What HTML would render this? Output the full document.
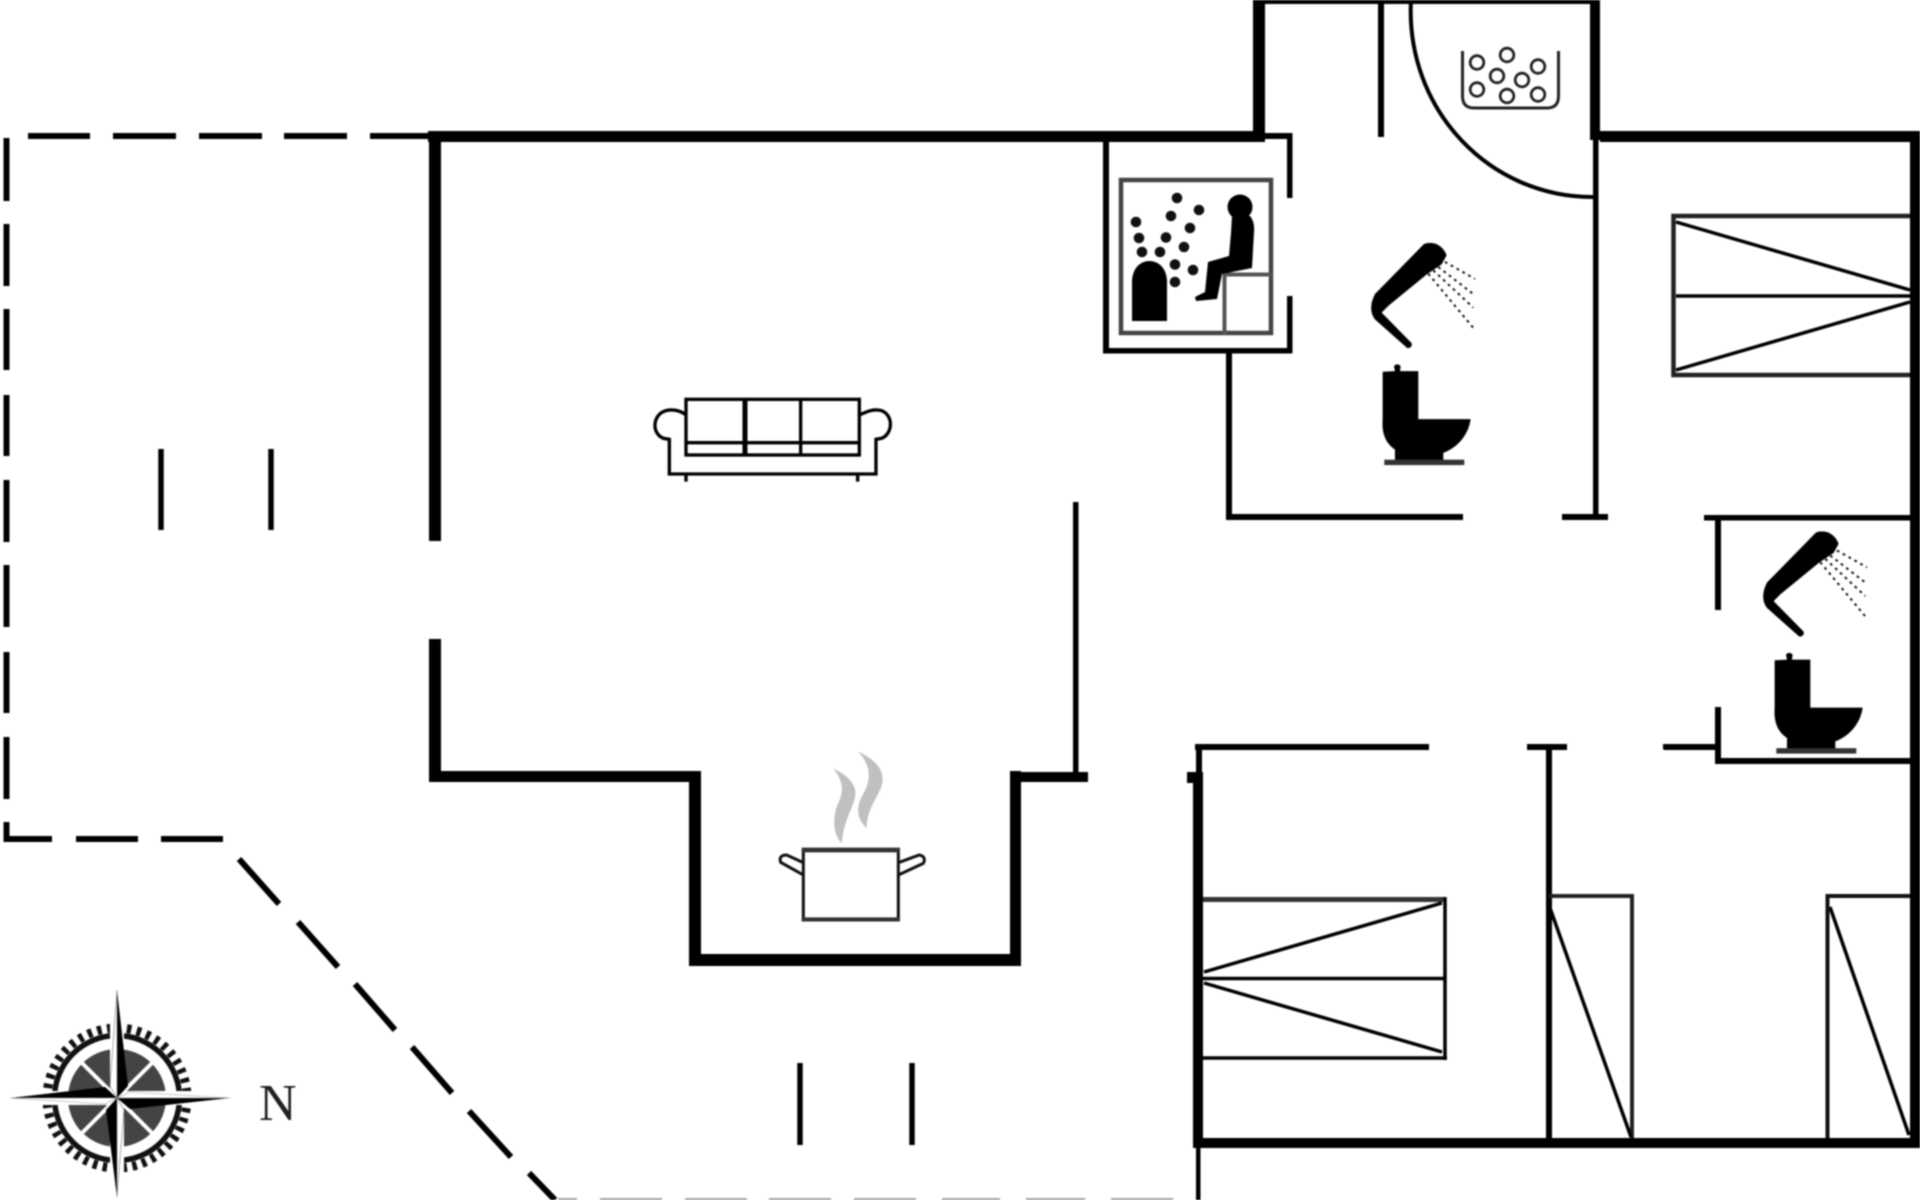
<!DOCTYPE html>
<html>
<head>
<meta charset="utf-8">
<style>
html,body{margin:0;padding:0;background:#fff}
svg{display:block;filter:blur(.7px)}
</style>
</head>
<body>
<svg xmlns="http://www.w3.org/2000/svg" width="1920" height="1200" viewBox="0 0 1920 1200">
<rect width="1920" height="1200" fill="#fff"/>

<!-- dashed outline -->
<g stroke="#000" stroke-width="6" fill="none">
<path d="M28 136H90M113 136H176M199 136H262M284 136H347M370 136H432"/>
<path d="M6.5 138V201M6.5 224V286M6.5 309V370M6.5 395V456M6.5 480V542M6.5 565V627M6.5 652V713M6.5 737V799M6.5 822V842"/>
<path d="M4 839H52M76 839H138M161 839H223"/>
<path d="M239 859L279 904M298 922L338 967M355 984L395 1030M412 1047L452 1093M469 1111L511 1157M529 1173L555 1200"/>
<path d="M161 449V530M271 449V530M800 1063V1145M912 1063V1145" stroke-width="5.5"/>
</g>
<path d="M558 1199H577M600 1199H662M685 1199H747M769 1199H831M854 1199H916M942 1199H1000M1026 1199H1085M1111 1199H1173" stroke="#888" stroke-width="1.5"/>

<!-- walls -->
<g fill="#000">
<rect x="428" y="131" width="837" height="11"/>
<rect x="429" y="131" width="12" height="410"/>
<rect x="429" y="639" width="12" height="143"/>
<rect x="429" y="771" width="272" height="11"/>
<rect x="689" y="771" width="12" height="195"/>
<rect x="689" y="954" width="332" height="12"/>
<rect x="1010" y="771" width="11" height="195"/>
<rect x="1010" y="772" width="78" height="10"/>
<rect x="1073" y="502" width="5.5" height="274"/>

<rect x="1253" y="0" width="12" height="140"/>
<rect x="1253" y="0" width="347" height="4"/>
<rect x="1590" y="0" width="10" height="140"/>
<rect x="1593" y="140" width="5.5" height="378"/>
<rect x="1378" y="0" width="6" height="137"/>

<rect x="1103" y="140" width="6" height="213"/>
<rect x="1103" y="348" width="189" height="5.5"/>
<rect x="1265" y="133" width="27" height="6"/>
<rect x="1287" y="133" width="5.5" height="65"/>
<rect x="1287" y="296" width="5.5" height="57"/>
<rect x="1226" y="351" width="6" height="169"/>
<rect x="1226" y="514" width="237" height="6"/>
<rect x="1562" y="514" width="46" height="6"/>

<rect x="1600" y="131" width="320" height="11"/>
<rect x="1910" y="131" width="10" height="1017"/>

<rect x="1704" y="515" width="216" height="5.5"/>
<rect x="1715" y="518" width="6" height="92"/>
<rect x="1715" y="707" width="6" height="57"/>
<rect x="1715" y="758" width="200" height="6"/>
<rect x="1663" y="744" width="54" height="5.5"/>

<rect x="1195" y="744" width="234" height="6"/>
<rect x="1527" y="744" width="40" height="6"/>
<rect x="1664" y="744" width="52" height="6"/>
<rect x="1196" y="744" width="6" height="30"/>
<rect x="1187" y="772" width="16" height="11"/>
<rect x="1193" y="772" width="10" height="376"/>
<rect x="1193" y="1138" width="727" height="10"/>
<rect x="1196" y="1148" width="4.5" height="52"/>
<rect x="1546" y="748" width="6" height="390"/>
</g>

<!-- door arc -->
<path d="M1411 0C1405 110 1490 198 1594 197" fill="none" stroke="#000" stroke-width="4"/>

<!-- basket -->
<g fill="none" stroke="#222">
<path d="M1462.500 51V96Q1462.500 108 1474 108H1547Q1558.500 108 1558.500 96V51" stroke-width="3"/>
<g stroke-width="2.800">
<circle cx="1477" cy="62.500" r="6.800"/><circle cx="1507" cy="55" r="6.800"/><circle cx="1538" cy="66.500" r="6.800"/>
<circle cx="1497" cy="76" r="6.800"/><circle cx="1522" cy="80" r="6.800"/><circle cx="1477" cy="89.500" r="6.800"/>
<circle cx="1507" cy="96" r="6.800"/><circle cx="1538" cy="94.500" r="6.800"/>
</g>
</g>

<!-- sauna -->
<rect x="1121" y="180" width="150" height="153" fill="none" stroke="#444" stroke-width="4.500"/>
<path d="M1224.500 335V274.500H1272" fill="none" stroke="#555" stroke-width="4"/>
<g fill="#111">
<circle cx="1177" cy="198" r="5.300"/><circle cx="1199" cy="210" r="5.300"/><circle cx="1171" cy="216" r="5.300"/>
<circle cx="1136" cy="222" r="5.300"/><circle cx="1190" cy="228" r="5.300"/><circle cx="1139" cy="238" r="5.300"/>
<circle cx="1166" cy="237.500" r="5.300"/><circle cx="1184" cy="247" r="5.300"/><circle cx="1142" cy="252" r="5.300"/>
<circle cx="1160" cy="252" r="5.300"/><circle cx="1175" cy="264.500" r="5.300"/><circle cx="1193" cy="270" r="5.300"/>
<circle cx="1175" cy="282" r="5.300"/>
</g>
<g fill="#000">
<path d="M1132 321V282C1132 254 1167 254 1167 282V321Z"/>
<circle cx="1240" cy="207" r="12.500"/>
<path d="M1232 216H1250Q1255 222 1254 232L1252 268L1222 274L1217 299L1196 301L1195 297L1205 292L1208 262L1229 256L1231 233Z"/>
</g>

<!-- shower and toilet 1 -->
<g transform="translate(1080,0) scale(.3333,.338)">
<path d="M1032 722C1060 712 1088 725 1100 755L1085 782L1040 812L925 905L905 925L995 1015Q998 1030 982 1030L885 945Q862 915 885 870Z" fill="#000"/>
<path d="M1095 775L1185 825M1075 790L1180 870M1060 800L1180 910M1045 810L1180 970" fill="none" stroke="#111" stroke-width="6" stroke-dasharray="8 12"/>
<path d="M945 1098L942 1083Q952 1072 962 1083L960 1098H1015V1240H1172C1165 1290 1130 1325 1090 1340V1362H945V1330C915 1310 905 1280 908 1240V1100Z" fill="#000"/>
<rect x="913" y="1360" width="240" height="16" fill="#333"/>
</g>
<!-- shower and toilet 2 -->
<g transform="translate(1472,288.500) scale(.3333,.338)">
<path d="M1032 722C1060 712 1088 725 1100 755L1085 782L1040 812L925 905L905 925L995 1015Q998 1030 982 1030L885 945Q862 915 885 870Z" fill="#000"/>
<path d="M1095 775L1185 825M1075 790L1180 870M1060 800L1180 910M1045 810L1180 970" fill="none" stroke="#111" stroke-width="6" stroke-dasharray="8 12"/>
<path d="M945 1098L942 1083Q952 1072 962 1083L960 1098H1015V1240H1172C1165 1290 1130 1325 1090 1340V1362H945V1330C915 1310 905 1280 908 1240V1100Z" fill="#000"/>
<rect x="913" y="1360" width="240" height="16" fill="#333"/>
</g>

<!-- beds -->
<g fill="none">
<path d="M1910 216H1673.500V375H1910" stroke="#222" stroke-width="4.500"/>
<path d="M1676 296H1910M1676 222L1910 290M1676 370L1910 302" stroke="#000" stroke-width="3.500"/>
<path d="M1203 899.500H1445" stroke="#333" stroke-width="5"/>
<path d="M1203 978.500H1445M1203 1058H1447M1445 897V1060M1204 972L1442 903M1204 983L1442 1052" stroke="#000" stroke-width="3.500"/>
<!-- closets -->
<path d="M1549 896H1632V1138" stroke="#222" stroke-width="4"/>
<path d="M1550 908L1631 1137M1830 907L1909 1135" stroke="#000" stroke-width="3.500"/>
<path d="M1827.500 1138V896H1910" stroke="#111" stroke-width="4"/>
</g>

<!-- sofa -->
<g transform="translate(630,380) scale(.3333)" fill="none" stroke="#000" stroke-width="10">
<rect x="168" y="58" width="520" height="167"/>
<path d="M345 58V225" stroke-width="15"/>
<path d="M512 58V225M168 188H688"/>
<path d="M168 105C150 90 120 85 100 95C68 110 65 160 100 175L118 178V282H738V178L755 175C790 160 790 105 755 92C730 85 710 95 688 105"/>
<path d="M168 282V305M683 282V305"/>
</g>

<!-- pot -->
<g transform="translate(760,740) scale(.3333)">
<path d="M220 85C270 110 300 140 280 190C260 240 250 260 245 310C225 290 215 250 230 200C250 160 255 130 220 85Z" fill="#c0c0c0"/>
<path d="M295 35C350 60 385 100 360 150C340 190 320 220 320 265C295 240 285 210 305 170C335 120 335 80 295 35Z" fill="#c0c0c0"/>
<g fill="none" stroke="#111" stroke-width="9">
<path d="M130 330V540H415V330"/>
<path d="M125 330H420" stroke="#333" stroke-width="14"/>
<path d="M125 538H420" stroke="#333" stroke-width="12"/>
<path d="M130 368L80 345Q55 345 62 367L130 405"/>
<path d="M415 368L478 345Q500 350 490 370L415 405"/>
</g>
</g>

<!-- compass -->
<g>
<circle cx="117" cy="1098" r="70" fill="none" stroke="#111" stroke-width="9" stroke-dasharray="4.500 5.490"/>
<circle cx="117" cy="1098" r="62.500" fill="none" stroke="#111" stroke-width="5.500"/>
<circle cx="117" cy="1098" r="49" fill="#444"/>
<path d="M82 1063L152 1133M152 1063L82 1133" stroke="#fff" stroke-width="4"/>
<path d="M110 1020L124 1020L124 1176L110 1176ZM40 1091H194V1105H40Z" fill="#fff"/>
<path d="M117 990L128 1086L117 1098Z" fill="#000"/>
<path d="M117 990L110 1086L117 1098Z" fill="#fff" stroke="#777" stroke-width=".6"/>
<path d="M117 1197L106 1110L117 1098Z" fill="#000"/>
<path d="M117 1197L124 1110L117 1098Z" fill="#fff" stroke="#777" stroke-width=".6"/>
<path d="M230 1098L130 1109L117 1098Z" fill="#000"/>
<path d="M230 1098L130 1092L117 1098Z" fill="#fff" stroke="#999" stroke-width=".6"/>
<path d="M10 1098L105 1087L117 1098Z" fill="#000"/>
<path d="M10 1098L105 1104L117 1098Z" fill="#fff" stroke="#999" stroke-width=".6"/>
</g>
<text x="259" y="1120" font-family="'Liberation Serif',serif" font-size="52" fill="#222">N</text>
</svg>
</body>
</html>
